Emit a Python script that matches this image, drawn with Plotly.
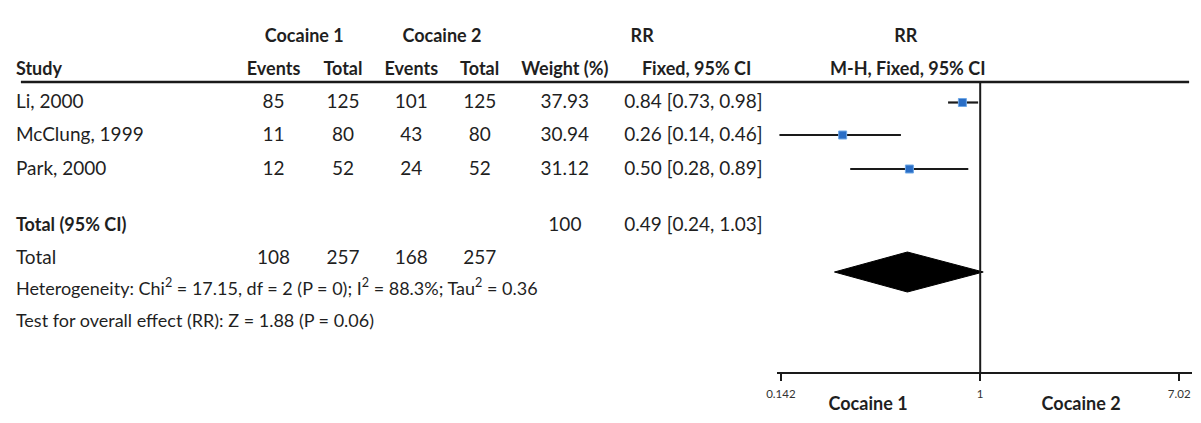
import math
import plotly.graph_objects as go

# ---- study-level data ----
studies = ["Li, 2000", "McClung, 1999", "Park, 2000"]
events_1 = [85, 11, 12]
total_1 = [125, 80, 52]
events_2 = [101, 43, 24]
total_2 = [125, 80, 52]
weights = [37.93, 30.94, 31.12]
rr = [0.84, 0.26, 0.50]
rr_low = [0.73, 0.14, 0.28]
rr_high = [0.98, 0.46, 0.89]

# ---- pooled estimate ----
pooled_rr = 0.49
pooled_low = 0.24
pooled_high = 1.03
pooled_weight = 100
sum_events_1, sum_total_1 = 108, 257
sum_events_2, sum_total_2 = 168, 257
chi2, df, p_het, i2, tau2 = 17.15, 2, 0, 88.3, 0.36
z_val, p_z = 1.88, 0.06

# ---- axis ----
tick_vals = [0.142, 1, 7.02]
tick_text = ["0.142", "1", "7.02"]

W, H = 1201, 423
FONT = "Lato"
TXT = "#1f1f1f"
SZ = 19      # table body
SZ_B = 18    # bold headers
SZ_F = 18    # footnotes

# vertical layout (pixel rows, y axis runs top-down)
row_y = [103.5, 136.5, 170.5]
y_group, y_head = 37, 70
y_pooled, y_tot, y_het, y_test = 226, 259.5, 290, 322
y_diamond = 272
y_axis = 373
y_vtop = 82
y_mark = [102.5, 135, 169]

# column centres (pixels)
col_ev1, col_tot1, col_ev2, col_tot2, col_w = 265, 335, 404, 473, 559
col_rr_left = 619
x_left = 5

fig = go.Figure()

# ---- forest plot marks (log RR axis = x2) ----
for i in range(len(studies)):
    fig.add_trace(go.Scatter(
        x=[rr_low[i], rr_high[i]], y=[y_mark[i], y_mark[i]],
        xaxis="x2", yaxis="y",
        mode="lines", line=dict(color="#1a1a1a", width=2.2),
        hoverinfo="skip", showlegend=False))
fig.add_trace(go.Scatter(
    x=rr, y=y_mark, xaxis="x2", yaxis="y", mode="markers",
    marker=dict(symbol="square", size=8, color="#2a6ec6",
                line=dict(color="#6fa8e6", width=1)),
    showlegend=False))

# pooled diamond
fig.add_trace(go.Scatter(
    x=[pooled_low, pooled_rr, pooled_high, pooled_rr, pooled_low],
    y=[y_diamond, y_diamond - 20, y_diamond, y_diamond + 20, y_diamond],
    xaxis="x2", yaxis="y",
    mode="lines", fill="toself", fillcolor="black",
    line=dict(color="black", width=1), showlegend=False))

# line of no effect
fig.add_trace(go.Scatter(
    x=[1, 1], y=[y_vtop, y_axis], xaxis="x2", yaxis="y", mode="lines",
    line=dict(color="#1a1a1a", width=2), showlegend=False))

ax_left, ax_right = 773, 1192
px_per_dec = (1179 - 777) / (math.log10(7.02) - math.log10(0.142))
r0 = math.log10(0.142) - (777 - ax_left) / px_per_dec
r1 = math.log10(7.02) + (ax_right - 1179) / px_per_dec

fig.update_layout(
    width=W, height=H,
    margin=dict(l=0, r=0, t=0, b=0),
    paper_bgcolor="white", plot_bgcolor="rgba(0,0,0,0)",
    showlegend=False,
    # pixel-based axis used for the table text
    xaxis=dict(range=[0, W], domain=[0, 1], visible=False, fixedrange=True),
    xaxis2=dict(type="log", domain=[ax_left / W, ax_right / W], range=[r0, r1],
                anchor="free", position=(H - y_axis) / H,
                showline=True, linecolor="#1a1a1a", linewidth=2,
                ticks="outside", ticklen=7, tickwidth=2, tickcolor="#1a1a1a",
                tickvals=tick_vals, ticktext=tick_text, ticklabelstandoff=3,
                tickfont=dict(family=FONT, size=11.5, color="#333"),
                showgrid=False, zeroline=False, fixedrange=True),
    yaxis=dict(range=[H, 0], domain=[0, 1], visible=False, fixedrange=True),
)

# header rule
fig.add_shape(type="line", xref="x", yref="y",
              x0=10, x1=1189, y0=82, y1=82,
              line=dict(color="#1a1a1a", width=2.5))


def txt(x, y, s, anchor="center", bold=False, size=SZ, color=TXT):
    if bold:
        s = f"<b>{s}</b>"
    pos = "middle right" if anchor == "left" else "middle center"
    fig.add_trace(go.Scatter(
        x=[x], y=[y], xaxis="x", yaxis="y", mode="text", text=[s],
        textposition=pos, hoverinfo="skip", showlegend=False,
        cliponaxis=False,
        textfont=dict(family=FONT, size=size, color=color)))


# headers
txt(296, y_group, "Cocaine 1", bold=True, size=SZ_B)
txt(435, y_group, "Cocaine 2", bold=True, size=SZ_B)
txt(637, y_group, "RR", bold=True, size=SZ_B)
txt(903, y_group, "RR", bold=True, size=SZ_B)
txt(x_left, y_head, "Study", anchor="left", bold=True, size=SZ_B)
txt(col_ev1, y_head, "Events", bold=True, size=SZ_B)
txt(col_tot1, y_head, "Total", bold=True, size=SZ_B)
txt(col_ev2, y_head, "Events", bold=True, size=SZ_B)
txt(col_tot2, y_head, "Total", bold=True, size=SZ_B)
txt(col_w, y_head, "Weight (%)", bold=True, size=SZ_B)
txt(692, y_head, "Fixed, 95% CI", bold=True, size=SZ_B)
txt(905, y_head, "M-H, Fixed, 95% CI", bold=True, size=SZ_B)

# study rows
for i, name in enumerate(studies):
    y = row_y[i]
    txt(x_left, y, name, anchor="left")
    txt(col_ev1, y, str(events_1[i]))
    txt(col_tot1, y, str(total_1[i]))
    txt(col_ev2, y, str(events_2[i]))
    txt(col_tot2, y, str(total_2[i]))
    txt(col_w, y, f"{weights[i]:.2f}")
    txt(col_rr_left, y, f"{rr[i]:.2f} [{rr_low[i]:.2f}, {rr_high[i]:.2f}]", anchor="left")

# pooled rows
txt(x_left, y_pooled, "Total (95% CI)", anchor="left", bold=True, size=SZ_B)
txt(col_w, y_pooled, str(pooled_weight))
txt(col_rr_left, y_pooled, f"{pooled_rr:.2f} [{pooled_low:.2f}, {pooled_high:.2f}]", anchor="left")
txt(x_left, y_tot, "Total", anchor="left")
txt(col_ev1, y_tot, str(sum_events_1))
txt(col_tot1, y_tot, str(sum_total_1))
txt(col_ev2, y_tot, str(sum_events_2))
txt(col_tot2, y_tot, str(sum_total_2))
txt(x_left, y_het,
    f"Heterogeneity: Chi<sup>2</sup> = {chi2:.2f}, df = {df} (P = {p_het}); "
    f"I<sup>2</sup> = {i2}%; Tau<sup>2</sup> = {tau2:.2f}", anchor="left", size=SZ_F)
txt(x_left, y_test, f"Test for overall effect (RR): Z = {z_val:.2f} (P = {p_z:.2f})",
    anchor="left", size=SZ_F)

# favours labels under the axis
txt(865, 405, "Cocaine 1", bold=True, size=SZ_B)
txt(1080, 405, "Cocaine 2", bold=True, size=SZ_B)

fig.write_html("out.html")
